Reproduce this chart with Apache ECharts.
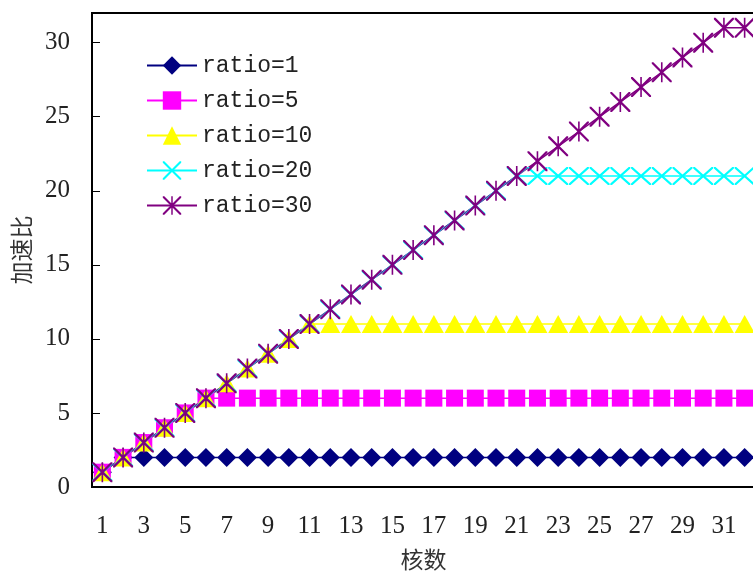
<!DOCTYPE html>
<html>
<head>
<meta charset="utf-8">
<script src="https://cdn.jsdelivr.net/npm/echarts@6/dist/echarts.min.js"></script>
<style>html,body{margin:0;padding:0;background:#fff}#c{width:753px;height:573px}</style>
</head>
<body>
<div id="c"></div>
<script>
const cores = [1,2,3,4,5,6,7,8,9,10,11,12,13,14,15,16,17,18,19,20,21,22,23,24,25,26,27,28,29,30,31,32];
const ratio1  = [1,2,2,2,2,2,2,2,2,2,2,2,2,2,2,2,2,2,2,2,2,2,2,2,2,2,2,2,2,2,2,2];
const ratio5  = [1,2,3,4,5,6,6,6,6,6,6,6,6,6,6,6,6,6,6,6,6,6,6,6,6,6,6,6,6,6,6,6];
const ratio10 = [1,2,3,4,5,6,7,8,9,10,11,11,11,11,11,11,11,11,11,11,11,11,11,11,11,11,11,11,11,11,11,11];
const ratio20 = [1,2,3,4,5,6,7,8,9,10,11,12,13,14,15,16,17,18,19,20,21,21,21,21,21,21,21,21,21,21,21,21];
const ratio30 = [1,2,3,4,5,6,7,8,9,10,11,12,13,14,15,16,17,18,19,20,21,22,23,24,25,26,27,28,29,30,31,31];
const seriesNames = ['ratio=1','ratio=5','ratio=10','ratio=20','ratio=30'];
const yTicks = [0,5,10,15,20,25,30];

const xPath = 'path://M0,0 L1.6,0 L20,18.4 L20,20 L18.4,20 L0,1.6 Z M18.4,0 L20,0 L20,1.6 L1.6,20 L0,20 L0,18.4 Z';
const starPath = 'path://M0,0 L1.6,0 L20,18.4 L20,20 L18.4,20 L0,1.6 Z M18.4,0 L20,0 L20,1.6 L1.6,20 L0,20 L0,18.4 Z M9.2,0 L10.8,0 L10.8,20 L9.2,20 Z';

const styles = [
  {data: ratio1,  color:'#000080', symbol:'diamond', size:19},
  {data: ratio5,  color:'#FF00FF', symbol:'rect', size:17},
  {data: ratio10, color:'#FFFF00', symbol:'triangle', size:[20,18]},
  {data: ratio20, color:'#00FFFF', symbol:xPath, size:[20,18]},
  {data: ratio30, color:'#800080', symbol:starPath, size:20}
];

const chart = echarts.init(document.getElementById('c'), null, {renderer:'canvas'});
chart.setOption({
  animation:false,
  backgroundColor:'#fff',
  grid:{left:92, top:13, width:663, bottom:86, outerBoundsMode:'none', containLabel:false,
        show:true, borderColor:'#000', borderWidth:2, backgroundColor:'transparent'},
  legend:{
    orient:'vertical', left:146, top:54, padding:0, itemWidth:50, itemHeight:23, itemGap:12,
    data: seriesNames,
    textStyle:{fontFamily:'Liberation Mono', fontSize:23, color:'#222'}
  },
  xAxis:{
    type:'category', data:cores, boundaryGap:true,
    name:'核数', nameLocation:'middle', nameGap:61,
    nameTextStyle:{fontFamily:'Noto Sans CJK SC', fontSize:23, color:'#333'},
    axisLine:{lineStyle:{color:'#000', width:2}},
    axisTick:{inside:true, length:9, interval:0, lineStyle:{color:'#000'}},
    axisLabel:{interval:1, margin:27, fontFamily:'Liberation Serif', fontSize:25, color:'#222'},
    splitLine:{show:false}
  },
  yAxis:{
    type:'value', min:0, max:32, interval:5,
    name:'加速比', nameLocation:'middle', nameGap:59,
    nameTextStyle:{fontFamily:'Noto Sans CJK SC', fontSize:23, color:'#333'},
    axisLine:{show:true, lineStyle:{color:'#000', width:2}},
    axisTick:{show:true, inside:true, length:8, lineStyle:{color:'#000'}},
    axisLabel:{margin:22, fontFamily:'Liberation Serif', fontSize:25, color:'#222', showMaxLabel:false,
      formatter:function(v){ return yTicks.indexOf(v) >= 0 ? String(v) : ''; }},
    splitLine:{show:false}
  },
  series: styles.map((s,i)=>({
    name: seriesNames[i], type:'line', data:s.data,
    symbol:s.symbol, symbolSize:s.size, showAllSymbol:true,
    itemStyle:{color:s.color},
    lineStyle:{color:s.color, width:1.5}
  }))
});
</script>
</body>
</html>
